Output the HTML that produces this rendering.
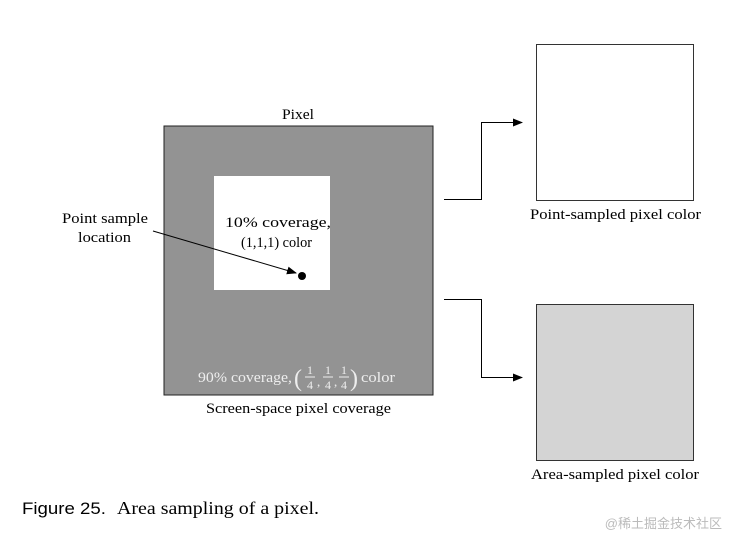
<!DOCTYPE html>
<html><head><style>
body{margin:0;background:#fff;width:739px;height:549px;overflow:hidden}
</style></head><body>
<svg width="739" height="549" xmlns="http://www.w3.org/2000/svg" style="font-family:'Liberation Serif',serif">
<defs><marker id="a" markerWidth="10" markerHeight="8" refX="9" refY="4" orient="auto" markerUnits="userSpaceOnUse"><path d="M0,0 L10,4 L0,8 Z" fill="#000"/></marker></defs>
<rect x="164" y="126" width="269" height="269" fill="#939393" stroke="#222" stroke-width="1"/>
<rect x="214" y="176" width="116" height="114" fill="#fff"/>
<g font-size="15" lengthAdjust="spacingAndGlyphs">
<text x="282" y="119" textLength="32" lengthAdjust="spacingAndGlyphs">Pixel</text>
<text x="225" y="227" textLength="106" lengthAdjust="spacingAndGlyphs">10% coverage,</text>
<text x="241" y="247" textLength="71" lengthAdjust="spacingAndGlyphs">(1,1,1) color</text>
<text x="62" y="223" textLength="86" lengthAdjust="spacingAndGlyphs">Point sample</text>
<text x="78" y="242" textLength="53" lengthAdjust="spacingAndGlyphs">location</text>
<text x="198" y="382" fill="#eee" textLength="94" lengthAdjust="spacingAndGlyphs">90% coverage,</text>
<text x="361" y="382" fill="#eee" textLength="34" lengthAdjust="spacingAndGlyphs">color</text>
<text x="206" y="413" textLength="185" lengthAdjust="spacingAndGlyphs">Screen-space pixel coverage</text>
<text x="530" y="219" textLength="171" lengthAdjust="spacingAndGlyphs">Point-sampled pixel color</text>
<text x="531" y="479" textLength="168" lengthAdjust="spacingAndGlyphs">Area-sampled pixel color</text>
</g>
<circle cx="302" cy="276" r="4" fill="#000"/>
<line x1="153" y1="231" x2="296" y2="273" stroke="#000" marker-end="url(#a)"/>
<text x="294" y="386" font-size="24" fill="#eee">(</text>
<g font-size="12" fill="#eee" text-anchor="middle">
<text x="310" y="374">1</text><text x="310" y="389">4</text>
<text x="328" y="374">1</text><text x="328" y="389">4</text>
<text x="344" y="374">1</text><text x="344" y="389">4</text>
</g>
<line x1="305" y1="377" x2="315" y2="377" stroke="#eee"/>
<line x1="323" y1="377" x2="333" y2="377" stroke="#eee"/>
<line x1="339" y1="377" x2="349" y2="377" stroke="#eee"/>
<text x="317" y="386" font-size="13" fill="#eee">,</text>
<text x="334" y="386" font-size="13" fill="#eee">,</text>
<text x="350" y="386" font-size="24" fill="#eee">)</text>
<rect x="536.5" y="44.5" width="157" height="156" fill="#fff" stroke="#333"/>
<rect x="536.5" y="304.5" width="157" height="156" fill="#d4d4d4" stroke="#333"/>
<polyline points="444,199.5 481.5,199.5 481.5,122.5 522,122.5" fill="none" stroke="#000" marker-end="url(#a)"/>
<polyline points="444,299.5 481.5,299.5 481.5,377.5 522,377.5" fill="none" stroke="#000" marker-end="url(#a)"/>
<text x="22" y="514" font-size="17" font-family="'Liberation Sans',sans-serif" textLength="84" lengthAdjust="spacingAndGlyphs">Figure 25.</text>
<text x="117" y="514" font-size="18" textLength="202" lengthAdjust="spacingAndGlyphs">Area sampling of a pixel.</text>
<text x="722" y="528" font-size="13" fill="#bbb" text-anchor="end" font-family="'Liberation Sans','Noto Sans CJK SC',sans-serif">@稀土掘金技术社区</text>
</svg>
</body></html>
